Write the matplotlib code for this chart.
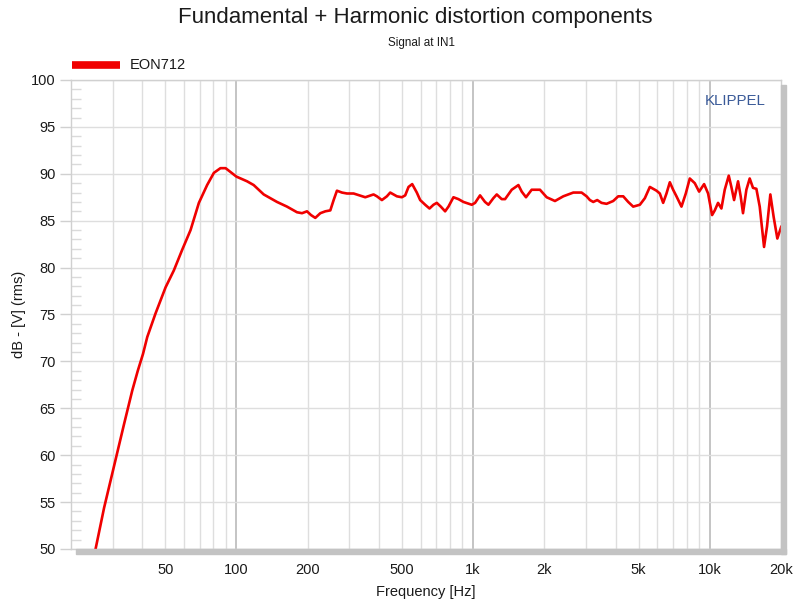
import numpy as np
import matplotlib
matplotlib.use("Agg")
import matplotlib.pyplot as plt
from matplotlib.patches import Rectangle
from matplotlib.ticker import FixedLocator, NullFormatter

plt.rcParams["font.family"] = ["Liberation Sans", "DejaVu Sans"]

# fundamental + harmonics response
freq_hz = [25.4, 27.6, 30.3, 33.5, 36.3, 38.3, 40.3, 42.0, 45.5, 50.2, 54.4,
           59.0, 64.0, 69.4, 75.2, 80.3, 85.6, 90.0, 94.3, 100,
           110.9, 118.3, 130.4, 148.4, 163.6, 180.3, 189.3, 198.7, 206.6,
           215.4, 226.2, 237.5, 249.3, 257.5, 265.9, 279.2, 293.1, 312.7,
           350.3, 379.7, 392.3, 411.8, 432.3, 446.5, 476.4, 500, 516.6, 533.6,
           553, 578.4, 597.6,
           627.4, 654.3, 680.2, 702.6, 730.4, 761.8, 786.8, 826.0, 867.1,
           910.3, 987.2, 1019.6, 1070, 1123, 1161, 1218, 1259, 1321, 1365,
           1456, 1554, 1605, 1673, 1768, 1917, 2046, 2218, 2405, 2651, 2874,
           3017, 3116, 3219, 3346, 3490, 3664, 3909, 4104, 4309, 4523, 4748,
           5066, 5318, 5583, 5957, 6152, 6355, 6564, 6781, 7003, 7234, 7594,
           7920, 8234, 8644, 9016, 9465, 9840, 10230, 10500, 10840, 11200,
           11570, 12030, 12340, 12670, 13170, 13510, 13820, 14280, 14750,
           15230, 15740, 16260, 16960, 17460, 18030, 18620, 19300, 20070]
level_db = [50.0, 54.4, 58.7, 63.3, 66.9, 69.0, 70.8, 72.6, 75.1, 77.9, 79.7,
            81.9, 84.0, 86.9, 88.8, 90.1, 90.6, 90.6, 90.2, 89.7,
            89.2, 88.8, 87.8, 87.0, 86.5, 85.9, 85.8, 86.0, 85.6,
            85.3, 85.8, 86.0, 86.1, 87.2, 88.2, 88.0, 87.9, 87.9,
            87.5, 87.8, 87.6, 87.2, 87.6, 88.0, 87.6, 87.5, 87.7, 88.6,
            88.9, 88.0, 87.2,
            86.7, 86.3, 86.7, 86.9, 86.5, 86.0, 86.5, 87.5, 87.3,
            87.0, 86.7, 86.9, 87.7, 87.0, 86.7, 87.4, 87.8, 87.3, 87.3,
            88.3, 88.8, 88.1, 87.5, 88.3, 88.3, 87.5, 87.1, 87.6, 88.0, 88.0,
            87.6, 87.2, 87.0, 87.2, 86.9, 86.8, 87.1, 87.6, 87.6, 87.0, 86.5,
            86.7, 87.4, 88.6, 88.2, 87.9, 86.9, 87.9, 89.1, 88.3, 87.6, 86.5,
            87.9, 89.5, 89.0, 88.1, 88.9, 87.9, 85.6, 86.1, 86.9, 86.3,
            88.3, 89.8, 88.6, 87.2, 89.2, 87.6, 85.8, 88.3, 89.5,
            88.5, 88.4, 86.5, 82.2, 84.4, 87.8, 85.4, 83.1, 84.4]

xtick_vals = [50, 100, 200, 500, 1000, 2000, 5000, 10000, 20000]
xtick_labels = ["50", "100", "200", "500", "1k", "2k", "5k", "10k", "20k"]
ytick_vals = list(range(50, 101, 5))

W, H = 796, 604
fig = plt.figure(figsize=(W / 100, H / 100), dpi=100)
ax = fig.add_axes([71 / W, 1 - 549 / H, 710 / W, 469 / H])

# vertical grid: 1..9 per decade, decade lines darker
grid_f = [m * 10 ** d for d in range(1, 5) for m in range(1, 10)]
for f in grid_f:
    if 20 < f < 20000:
        major = f in (100, 1000, 10000)
        ax.axvline(f, color="#c4c4c4" if major else "#dedede",
                   lw=1.4 if major else 1.0, zorder=0)
for y in ytick_vals:
    ax.axhline(y, color="#dedede", lw=1.0, zorder=0)

ax.plot(freq_hz, level_db, color="#f00000", lw=1.9, zorder=3,
        solid_joinstyle="round", solid_capstyle="round")

ax.set_xscale("log")
ax.set_xlim(20, 20000)
ax.set_ylim(50, 100)
ax.xaxis.set_major_locator(FixedLocator(xtick_vals))
ax.xaxis.set_minor_locator(FixedLocator([]))
ax.xaxis.set_minor_formatter(NullFormatter())
ax.set_xticklabels(xtick_labels)
ax.set_yticks(ytick_vals)
ax.set_yticks(range(50, 101), minor=True)
ax.tick_params(axis="x", length=0, pad=10, labelsize=10.5, colors="#1a1a1a")
ax.tick_params(axis="y", which="major", length=8, width=1, color="#d0d0d0",
               pad=3, labelsize=10.5, labelcolor="#1a1a1a")
ax.tick_params(axis="y", which="minor", direction="in", length=7, width=1,
               color="#dadada")
for s in ax.spines.values():
    s.set_color("#d0d0d0")
    s.set_linewidth(1.0)

ax.set_xlabel("Frequency [Hz]", fontsize=10.5, labelpad=6, color="#1a1a1a")
ax.set_ylabel("dB - [V] (rms)", fontsize=10.5, labelpad=4, color="#1a1a1a")

# drop shadow right of and below the plot
fig.patches.append(Rectangle((76 / W, 1 - 554 / H), 710 / W, 5 / H,
                             transform=fig.transFigure, color="#c3c3c3",
                             zorder=0))
fig.patches.append(Rectangle((781 / W, 1 - 554 / H), 5 / W, 469 / H,
                             transform=fig.transFigure, color="#c3c3c3",
                             zorder=0))

fig.text(415 / W, 1 - 17 / H, "Fundamental + Harmonic distortion components",
         ha="center", va="center", fontsize=16, color="#1a1a1a")
fig.text(421 / W, 1 - 43 / H, "Signal at IN1", ha="center", va="center",
         fontsize=8.4, color="#1a1a1a")

# legend
fig.lines.append(plt.Line2D([72 / W, 120 / W], [1 - 65 / H, 1 - 65 / H],
                            transform=fig.transFigure, color="#f00000",
                            lw=5.5, solid_capstyle="butt"))
fig.text(130 / W, 1 - 65 / H, "EON712", ha="left", va="center",
         fontsize=10.5, color="#1a1a1a")

ax.text(766 / W, 1 - 101 / H, "KLIPPEL", transform=fig.transFigure,
        ha="right", va="center", fontsize=10.8, color="#3a5a98")

fig.savefig("out.png", dpi=100)
